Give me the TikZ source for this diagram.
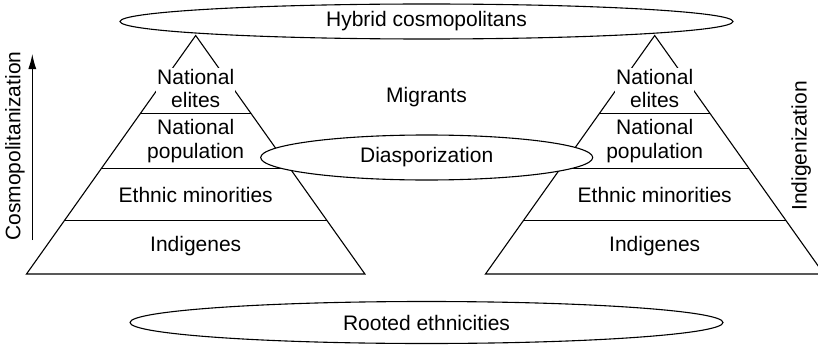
\documentclass[tikz,border=0pt]{standalone}
\usepackage{fontspec}
\setmainfont{Liberation Sans}
\usetikzlibrary{shapes.geometric,arrows.meta}
\begin{document}
\begin{tikzpicture}[x=1pt,y=-1pt,
  line width=1.1pt,
  lbl/.style={font=\fontsize{21}{23.5}\selectfont, align=center, inner sep=1pt},
  wlbl/.style={lbl, fill=white},
  oval/.style={ellipse, draw, fill=white, inner sep=0pt, font=\fontsize{21}{23.5}\selectfont},
  layer/.style={line width=1.1pt}
]
\useasboundingbox (0,0) rectangle (818,345);

% left pyramid
\coordinate (LA) at (195.7,35.5);
\coordinate (LBl) at (26.5,274);
\coordinate (LBr) at (364.9,274);
\draw[layer] (LA) -- (LBl) -- (LBr) -- cycle;
\draw[layer] (140.6,113.3) -- (250.8,113.3);
\draw[layer] (101.3,168.7) -- (290.1,168.7);
\draw[layer] (64.7,220.3) -- (326.7,220.3);

% right pyramid
\coordinate (RA) at (654.7,35.5);
\coordinate (RBl) at (485.5,274);
\coordinate (RBr) at (823.9,274);
\draw[layer] (RA) -- (RBl) -- (RBr) -- cycle;
\draw[layer] (599.6,113.3) -- (709.8,113.3);
\draw[layer] (560.3,168.7) -- (749.1,168.7);
\draw[layer] (523.7,220.3) -- (785.7,220.3);

% ovals
\node[oval, minimum width=613pt, minimum height=35pt] (hyb) at (426.5,21.5) {Hybrid cosmopolitans};
\node[oval, minimum width=332pt, minimum height=45pt] (dia) at (426.7,157.5) {Diasporization};
\node[oval, minimum width=593pt, minimum height=42pt] (root) at (426.5,322.5) {Rooted ethnicities};

% left labels
\node[wlbl] (Lel) at (195.7,88.5) {National\\elites};
\node[lbl] (Lpop) at (195.7,141) {National\\population};
\node[lbl] (Leth) at (195.7,195) {Ethnic minorities};
\node[lbl] (Lind) at (195.7,246.5) {Indigenes};

% right labels
\node[wlbl] (Rel) at (654.7,88.5) {National\\elites};
\node[lbl] (Rpop) at (654.7,141) {National\\population};
\node[lbl] (Reth) at (654.7,195) {Ethnic minorities};
\node[lbl] (Rind) at (654.7,246.5) {Indigenes};

% middle
\node[lbl] (mig) at (426.5,97) {Migrants};

% side axes
\node[lbl, rotate=90] (cos) at (15,146) {Cosmopolitanization};
\coordinate (ab) at (32.3,240);
\coordinate (at) at (32.3,54);
\draw[-{Latex[length=15pt,width=8pt]}] (ab) -- (at);
\node[lbl, rotate=90] (ind) at (801.3,146) {Indigenization};
\end{tikzpicture}
\end{document}
